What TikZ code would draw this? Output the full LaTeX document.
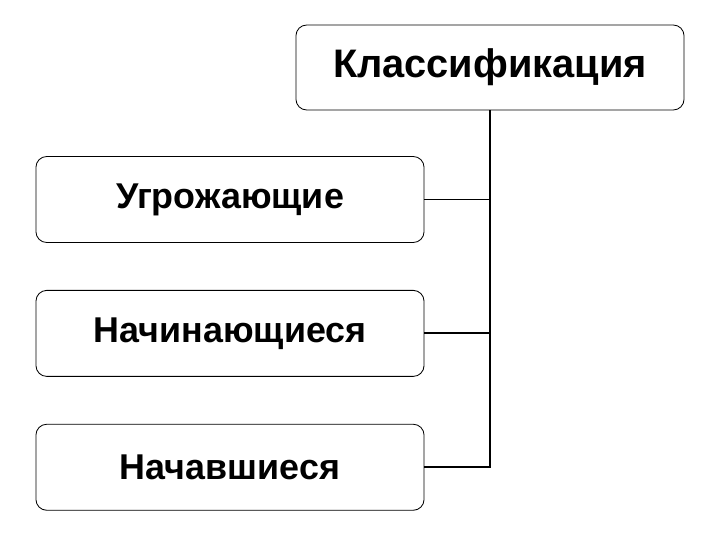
\documentclass[tikz,border=0pt]{standalone}
\usepackage{fontspec}
\setmainfont{Liberation Sans}
\usetikzlibrary{positioning}
\begin{document}
\begin{tikzpicture}[x=0.025cm, y=-0.025cm, node distance=1.175cm,
    catbox/.style={draw, line width=0.6pt, rounded corners=0.27cm, align=center,
      minimum width=9.7cm, minimum height=2.15cm, inner sep=0pt,
      font=\fontsize{25.5}{30}\selectfont\bfseries},
    link/.style={line width=1.3pt}]
    \useasboundingbox (0,0) rectangle (720,540);
    \node[catbox, minimum height=2.125cm, font=\fontsize{28.3}{32}\selectfont\bfseries] (klass) at (490,67.5) {Классификация};
    \node[catbox] (ugroz) at (230,199.5) {Угрожающие};
    \node[catbox, below=of ugroz] (nachin) {Начинающиеся};
    \node[catbox, below=of nachin] (nachav) {Начавшиеся};
    \draw[link] (klass.south) |- (ugroz.east);
    \draw[link] (klass.south) |- (nachin.east);
    \draw[link] (klass.south) |- (nachav.east);
\end{tikzpicture}
\end{document}
